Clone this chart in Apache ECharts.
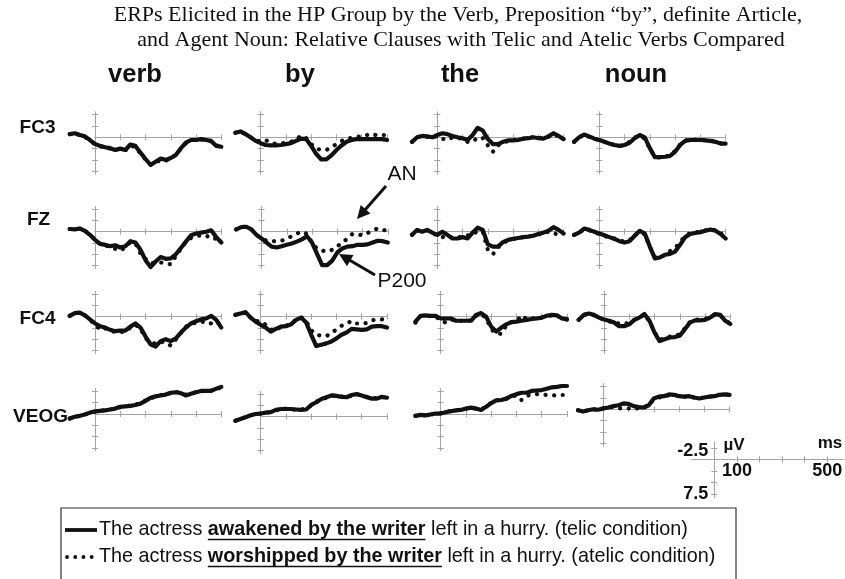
<!DOCTYPE html>
<html>
<head>
<meta charset="utf-8">
<script src="https://cdn.jsdelivr.net/npm/echarts@6/dist/echarts.min.js"></script>
<style>
  html, body { margin: 0; padding: 0; background: #fff; }
  #chart { width: 845px; height: 579px; }
</style>
</head>
<body>
<div id="chart"></div>
<script>
// sample times in ms (every 20 ms, -100 .. 500)
const times = [-100, -80, -60, -40, -20, 0, 20, 40, 60, 80, 100, 120, 140, 160, 180, 200,
               220, 240, 260, 280, 300, 320, 340, 360, 380, 400, 420, 440, 460, 480, 500];
const words = ['verb', 'by', 'the', 'noun'];
const channels = ['FC3', 'FZ', 'FC4', 'VEOG'];

// amplitudes in µV (negative up), telic = solid, atelic = dotted
const fc3VerbTelic  = [-0.7,-0.9,-0.5,-0.2,0.6,1.5,1.9,2.2,2.4,2.8,2.5,2.8,1.6,1.9,3.4,4.8,6.1,5.4,4.7,5.0,4.6,3.9,2.4,1.2,0.6,0.6,0.4,0.6,0.8,1.9,2.1];
const fc3VerbAtelic = [-0.7,-0.8,-0.5,-0.1,0.7,1.5,2.0,2.3,2.5,2.7,2.6,2.9,1.9,2.1,3.6,4.9,6.0,5.6,5.0,5.2,4.7,3.8,2.5,1.3,0.6,0.5,0.5,0.6,0.9,1.8,2.0];
const fc3ByTelic    = [-1.0,-1.3,-0.7,0,0.8,1.3,1.7,1.8,1.8,1.7,1.5,1.3,0.8,0.3,0.4,1.9,3.7,4.9,4.9,4.0,2.8,1.8,1.0,0.6,0.4,0.4,0.4,0.4,0.4,0.4,0.6];
const fc3ByAtelic   = [-1.0,-1.3,-0.7,0,0.7,0.9,0.6,1.3,1.4,1.3,1.3,1.0,0.5,-0.4,0.2,1.5,2.5,2.8,2.8,2.2,1.5,0.8,0.4,0.1,-0.1,-0.2,-0.5,-0.8,-0.4,-0.5,-0.5];
const fc3TheTelic   = [1.0,0,-0.3,-0.2,0,-0.5,-0.9,-0.7,-0.3,0,0.2,0.6,-0.5,-2.1,-1.5,0.4,1.5,1.5,1.0,0.7,0.7,0.6,0.3,0.2,0,0.2,0.3,-0.2,-0.9,-0.3,0.4];
const fc3TheAtelic  = [1.0,0,-0.3,-0.1,0.1,-0.3,0.3,0.6,0,0.1,0.4,1.0,1.0,0,0.2,1.8,3.2,1.8,1.2,0.8,0.6,0.5,0.3,0.1,0,0.1,0.2,-0.1,-0.7,-0.2,0.3];
const fc3NounTelic  = [1.0,0,-0.6,-0.2,0.3,0.6,1.0,1.4,1.7,1.9,1.7,1.2,0.2,-0.5,0,2.4,4.4,4.4,4.3,4.1,3.2,1.7,0.8,0.6,0.6,0.6,0.7,0.8,1.0,1.4,1.4];
const fc3NounAtelic = [1.0,0,-0.6,-0.1,0.3,0.6,1.0,1.4,1.7,1.9,1.8,1.0,0,-0.3,0.3,2.5,4.3,4.5,4.3,4.0,3.0,1.6,0.7,0.5,0.5,0.6,0.6,0.7,0.9,1.3,1.4];

const fzVerbTelic   = [-0.6,-0.5,-0.7,-0.2,0.7,1.8,2.7,2.9,3.2,3.0,3.5,3.2,2.1,2.4,4.0,6.3,7.8,6.6,5.6,6.0,5.9,5.0,3.6,2.2,0.8,0.4,0.2,0,-0.3,1.2,2.4];
const fzVerbAtelic  = [-0.6,-0.5,-0.7,-0.2,0.7,1.8,2.7,3.0,3.4,3.8,4.2,3.5,2.3,2.6,4.8,6.0,7.0,6.9,6.8,7.0,7.2,5.4,3.8,2.2,1.4,1.0,0.8,0.8,1.6,1.5,2.0];
const fzByTelic     = [-0.5,-1.0,-1.1,-0.5,0.7,1.5,2.4,3.3,3.5,3.2,2.9,2.6,2.2,1.7,1.0,2.4,4.9,7.4,7.4,6.4,4.6,3.7,3.3,3.2,2.9,2.9,2.8,2.4,2.0,2.1,2.4];
const fzByAtelic    = [-0.5,-1.0,-1.1,-0.5,0.7,1.5,2.0,2.2,2.0,2.0,1.5,1.0,0.4,0,0.5,2.5,3.8,4.2,4.4,4.0,3.2,2.5,1.5,0.5,0.6,0.8,0.3,-0.3,-0.7,-0.4,-0.2];
const fzTheTelic    = [0.7,-0.4,0,-0.4,0.2,0.7,0,0.7,1.5,1.5,1.2,1.5,0.2,-0.9,-0.4,2.8,3.3,3.3,2.3,1.8,1.6,1.4,1.2,1.1,0.9,0.5,0.2,-0.2,-1.0,-0.4,0.4];
const fzTheAtelic   = [0.7,-0.3,0,-0.3,0.3,0.8,1.2,0.9,1.3,1.3,1.0,0.8,0.7,-0.2,0,4.0,5.0,3.5,2.5,1.9,1.6,1.4,1.2,1.0,0.9,0.6,0.3,0,0.2,0.8,0.6];
const fzNounTelic   = [0.7,0.2,-0.7,-0.4,0,0.4,0.8,1.2,1.6,2.1,2.4,2.1,0.9,-0.2,0.4,3.3,5.9,5.7,5.1,4.9,4.4,2.9,1.2,0.5,0.3,0.1,-0.2,-0.5,-0.2,0.5,1.5];
const fzNounAtelic  = [0.7,0.2,-0.5,-0.3,0.1,0.5,0.9,1.4,1.5,1.9,2.2,1.9,0.8,-0.1,0.6,3.4,5.6,5.6,5.2,4.3,3.6,2.3,0.9,0.3,0.1,0,-0.3,-0.5,-0.4,0.3,1.2];

const fc4VerbTelic  = [-0.2,-0.8,-0.9,-0.3,0.6,1.5,2.1,2.4,2.9,3.2,3.1,3.1,2.2,1.5,2.4,4.4,6.1,6.6,5.4,5.0,5.4,4.8,3.5,2.4,1.5,1.0,0.6,0.4,-0.2,0.7,2.4];
const fc4VerbAtelic = [-0.2,-0.8,-0.9,-0.3,0.7,1.7,2.9,2.6,3.0,3.4,3.4,3.3,2.4,1.8,2.6,4.8,5.6,6.0,5.5,5.8,6.4,5.0,3.6,2.2,1.5,1.4,1.2,1.0,1.5,0.9,2.0];
const fc4ByTelic    = [-0.4,-0.7,-1.0,0.2,1.1,1.8,2.4,3.3,2.7,2.2,2.1,1.7,0.7,0.2,1.3,4.0,6.5,6.2,5.9,5.5,4.8,4.0,3.5,2.7,2.8,2.9,2.8,2.2,2.1,2.1,2.4];
const fc4ByAtelic   = [-0.4,-0.7,-1.0,0.2,1.0,1.0,1.8,2.8,3.1,2.2,2.0,1.6,0.6,0.1,1.0,3.0,4.0,4.2,4.3,3.6,2.8,2.0,1.6,0.9,1.5,1.5,1.4,0.8,0.6,0.6,0.8];
const fc4TheTelic   = [1.1,-0.2,-0.3,-0.2,-0.2,0.4,0.4,0.4,0.9,0.9,0.9,0.9,-0.4,-0.8,0,2.2,3.3,2.4,1.7,1.2,1.1,0.9,0.7,0.5,0.4,0.2,-0.2,-0.4,-0.3,0.4,0.6];
const fc4TheAtelic  = [1.3,-0.1,-0.2,-0.1,-0.1,0.9,1.3,0.6,0.8,0.9,1.0,0.8,-0.2,-0.6,0.3,2.8,3.7,3.8,1.9,1.2,1.0,-0.3,0.5,0.4,0.3,0.2,-0.1,-0.3,-0.2,0.3,0.6];
const fc4NounTelic  = [0.7,-0.4,-0.7,-0.4,0.2,0.6,0.9,1.3,2.1,2.1,1.7,0.7,0.2,-0.6,0.9,3.5,5.4,5.0,4.6,4.5,4.2,2.8,1.3,0.8,0.8,0.7,0.2,-0.6,-0.4,0.9,1.6];
const fc4NounAtelic = [0.7,-0.4,-0.6,-0.3,0.2,0.6,1.0,1.4,1.5,1.6,1.3,0.7,0.2,-0.5,1.0,3.4,5.1,4.8,4.4,4.2,3.9,2.6,1.2,0.7,0.6,0.5,0.1,-0.5,-0.3,0.8,1.5];

const veogVerbTelic  = [1.0,0.6,0.4,0.1,-0.3,-0.6,-0.7,-0.8,-1.0,-1.2,-1.6,-1.7,-1.8,-2.0,-2.3,-2.9,-3.6,-3.9,-4.1,-4.3,-4.7,-4.8,-4.6,-4.1,-4.5,-4.8,-5.1,-5.1,-5.1,-5.6,-6.0];
const veogVerbAtelic = [1.0,0.6,0.4,0.1,-0.3,-0.5,-0.7,-0.9,-1.0,-1.2,-1.5,-1.7,-1.9,-2.1,-2.4,-3.0,-3.5,-3.8,-4.2,-4.4,-4.6,-4.9,-4.7,-4.3,-4.4,-4.9,-5.0,-5.2,-5.2,-5.5,-5.9];
const veogByTelic    = [0.9,0.5,0.1,-0.3,-0.6,-0.7,-0.9,-1.0,-1.5,-1.7,-1.7,-1.7,-1.6,-1.5,-1.6,-2.6,-3.2,-3.9,-4.3,-4.7,-4.6,-4.4,-4.3,-4.8,-5.0,-4.7,-4.3,-4.0,-4.0,-4.4,-4.2];
const veogByAtelic   = [0.9,0.5,0.1,-0.3,-0.6,-0.7,-0.8,-1.1,-1.4,-1.6,-1.8,-1.7,-1.5,-1.6,-1.8,-2.5,-3.3,-3.8,-4.2,-4.6,-4.7,-4.5,-4.2,-4.7,-4.9,-4.8,-4.4,-4.1,-4.1,-4.3,-4.3];
const veogTheTelic   = [0.4,0.2,0.3,0.1,-0.1,-0.1,-0.4,-0.6,-0.8,-0.9,-1.2,-1.4,-1.2,-0.9,-1.6,-2.4,-3.0,-3.1,-3.4,-4.0,-4.4,-4.7,-4.7,-5.1,-5.2,-5.3,-5.6,-5.9,-6.0,-6.2,-6.2];
const veogTheAtelic  = [0.4,0.2,0.3,0.1,-0.1,-0.2,-0.4,-0.7,-0.8,-1.0,-1.2,-1.3,-1.2,-1.0,-1.7,-2.5,-3.0,-3.2,-3.4,-3.9,-4.1,-3.1,-4.0,-4.3,-4.4,-4.3,-4.2,-4.1,-4.1,-4.2,-4.2];
const veogNounTelic  = [0.2,0.5,0.2,0,0.1,-0.2,-0.4,-0.7,-0.9,-1.3,-1.2,-0.7,-0.5,-0.4,-0.9,-2.4,-2.8,-2.9,-3.3,-3.2,-2.9,-2.8,-2.9,-2.6,-2.4,-2.6,-2.8,-2.9,-3.2,-3.3,-3.2];
const veogNounAtelic = [0.2,0.5,0.2,0,0.1,-0.2,-0.4,-0.5,-0.2,-0.2,-0.2,0,-0.3,-0.4,-1.0,-2.2,-2.6,-2.8,-3.1,-3.2,-2.9,-2.8,-2.8,-2.6,-2.5,-2.6,-2.8,-2.9,-3.2,-3.3,-3.2];

const telic = [
  [fc3VerbTelic, fc3ByTelic, fc3TheTelic, fc3NounTelic],
  [fzVerbTelic, fzByTelic, fzTheTelic, fzNounTelic],
  [fc4VerbTelic, fc4ByTelic, fc4TheTelic, fc4NounTelic],
  [veogVerbTelic, veogByTelic, veogTheTelic, veogNounTelic]
];
const atelic = [
  [fc3VerbAtelic, fc3ByAtelic, fc3TheAtelic, fc3NounAtelic],
  [fzVerbAtelic, fzByAtelic, fzTheAtelic, fzNounAtelic],
  [fc4VerbAtelic, fc4ByAtelic, fc4TheAtelic, fc4NounAtelic],
  [veogVerbAtelic, veogByAtelic, veogTheAtelic, veogNounAtelic]
];

const xTickValues = [100, 200, 300, 400, 500];
const yTickValues = [-5, -2.5, 2.5, 5, 7.5];
const scaleXTicks = [100, 200, 300, 400, 500];
const scaleXLabels = [100, 500];
const scaleYTicks = [-2.5, 2.5, 5, 7.5];
const scaleYLabels = [-2.5, 7.5];

// layout (pixel position of t = 0 and of 0 µV for each panel)
const panelX0 = [
  [95, 260.7, 437.3, 599.3],
  [95, 261.5, 437.3, 599.3],
  [95, 260.7, 440.7, 604],
  [95, 260.7, 440.7, 603.3]
];
const panelY0 = [
  [137.3, 137.3, 137.3, 137.3],
  [231.7, 231.7, 231.7, 231.7],
  [316.7, 316.7, 316.7, 316.7],
  [414, 416.7, 414, 409.3]
];
const PX_MS = 0.2526, PX_UV = 4.52;
const Y_MIN = -5.6, Y_MAX = 8.1;
const axisColor = '#a3a3a3';
const ink = '#111';
const sans = '"Liberation Sans", Arial, sans-serif';
const serif = '"Liberation Serif", "Times New Roman", serif';

const grid = [], xAxis = [], yAxis = [], series = [];

// visible frame: axis lines cross at (0 ms, 0 µV), ticks on both sides
function addFrame(x0, y0, xMin, xMax, pxMs, yMin, yMax, pxUv, xTicks, yTicks) {
  const g = grid.length;
  grid.push({
    left: x0 + xMin * pxMs, top: y0 + yMin * pxUv,
    width: (xMax - xMin) * pxMs, height: (yMax - yMin) * pxUv
  });
  const xi = xAxis.length, yi = yAxis.length;
  const lineStyle = { color: axisColor, width: 1 };
  ['bottom', 'top'].forEach(pos => {
    xAxis.push({
      type: 'value', gridIndex: g, min: xMin, max: xMax, position: pos,
      axisLine: { onZero: true, onZeroAxisIndex: yi, lineStyle },
      axisTick: { customValues: xTicks, length: 3, lineStyle },
      axisLabel: { show: false }, splitLine: { show: false }
    });
  });
  ['left', 'right'].forEach(pos => {
    yAxis.push({
      type: 'value', gridIndex: g, min: yMin, max: yMax, inverse: true, position: pos,
      axisLine: { onZero: true, onZeroAxisIndex: xi, lineStyle },
      axisTick: { customValues: yTicks, length: 3, lineStyle },
      axisLabel: { show: false }, splitLine: { show: false }
    });
  });
  return { xi, yi };
}

// hidden data frame covering the whole epoch (-100 .. 500 ms)
function addDataFrame(x0, y0) {
  const g = grid.length;
  grid.push({
    left: x0 - 100 * PX_MS, top: y0 + Y_MIN * PX_UV,
    width: 600 * PX_MS, height: (Y_MAX - Y_MIN) * PX_UV
  });
  const xi = xAxis.length, yi = yAxis.length;
  xAxis.push({ type: 'value', gridIndex: g, min: -100, max: 500, show: false });
  yAxis.push({ type: 'value', gridIndex: g, min: Y_MIN, max: Y_MAX, inverse: true, show: false });
  return { xi, yi };
}

for (let r = 0; r < channels.length; r++) {
  for (let c = 0; c < words.length; c++) {
    const x0 = panelX0[r][c], y0 = panelY0[r][c];
    addFrame(x0, y0, 0, 500, PX_MS, Y_MIN, Y_MAX, PX_UV, xTickValues, yTickValues);
    const { xi, yi } = addDataFrame(x0, y0);
    series.push({
      name: channels[r] + ' ' + words[c] + ' atelic', type: 'line',
      xAxisIndex: xi, yAxisIndex: yi, symbol: 'none', clip: false, silent: true, z: 2,
      data: times.map((t, i) => [t, atelic[r][c][i]]),
      lineStyle: { color: ink, width: 4.2, type: [0.1, 8.5], cap: 'round' }
    });
    series.push({
      name: channels[r] + ' ' + words[c] + ' telic', type: 'line',
      xAxisIndex: xi, yAxisIndex: yi, symbol: 'none', clip: false, silent: true, z: 3,
      data: times.map((t, i) => [t, telic[r][c][i]]),
      lineStyle: { color: ink, width: 4.2, join: 'round', cap: 'round' }
    });
  }
}

// calibration bar
const scaleAxes = addFrame(714.3, 459.3, -100, 570, 0.226, -3.7, 8.3, 4.6, scaleXTicks, scaleYTicks);

const chart = echarts.init(document.getElementById('chart'));
chart.setOption({
  backgroundColor: '#fff',
  animation: false,
  grid, xAxis, yAxis, series
});

// text helpers
const measureCtx = document.createElement('canvas').getContext('2d');
function textWidth(txt, font) { measureCtx.font = font; return measureCtx.measureText(txt).width; }
function label(text, x, y, font, align) {
  return { type: 'text', x, y, silent: true,
    style: { text: String(text), font, fill: ink, align: align || 'center', verticalAlign: 'middle' } };
}
function arrow(x1, y1, x2, y2) {
  const dx = x2 - x1, dy = y2 - y1, L = Math.hypot(dx, dy), ux = dx / L, uy = dy / L;
  const hl = 13, hw = 6.5, bx = x2 - ux * hl, by = y2 - uy * hl;
  return [
    { type: 'line', silent: true, shape: { x1, y1, x2: bx + ux * 2, y2: by + uy * 2 },
      style: { stroke: ink, lineWidth: 3 } },
    { type: 'polygon', silent: true,
      shape: { points: [[x2, y2], [bx - uy * hw, by + ux * hw], [bx + uy * hw, by - ux * hw]] },
      style: { fill: ink } }
  ];
}

const titleFont = '22px ' + serif;
const headFont = 'bold 25.5px ' + sans;
const rowFont = 'bold 19px ' + sans;
const noteFont = '21px ' + sans;
const scaleFont = 'bold 18px ' + sans;
const legFont = '19.8px ' + sans;
const legBold = 'bold 19.8px ' + sans;

const graphic = [
  label('ERPs Elicited in the HP Group by the Verb, Preposition \u201Cby\u201D, definite Article,', 458, 15, titleFont),
  label('and Agent Noun: Relative Clauses with Telic and Atelic Verbs Compared', 461, 40, titleFont),
  label(words[0], 135, 75, headFont),
  label(words[1], 300, 75, headFont),
  label(words[2], 460, 75, headFont),
  label(words[3], 636, 75, headFont),
  label(channels[0], 37.5, 128, rowFont),
  label(channels[1], 38.5, 220, rowFont),
  label(channels[2], 37.5, 319, rowFont),
  label(channels[3], 40.5, 417, rowFont),
  label('AN', 402, 174, noteFont),
  label('P200', 402, 281, noteFont),
  ...arrow(386, 186, 357, 219),
  ...arrow(375, 275, 339, 254),
  label('\u00B5V', 734, 445, 'bold 17px ' + sans),
  label('ms', 830, 443, 'bold 17px ' + sans)
];

// calibration-bar tick labels placed through the bar's own axes
const scaleFinder = { xAxisIndex: scaleAxes.xi, yAxisIndex: scaleAxes.yi };
scaleXLabels.forEach(v => {
  const p = chart.convertToPixel(scaleFinder, [v, 0]);
  graphic.push(label(v, p[0], p[1] + 12, scaleFont));
});
scaleYLabels.forEach(v => {
  const p = chart.convertToPixel(scaleFinder, [0, v]);
  graphic.push(label(v, p[0] - 6, p[1] + (v < 0 ? 3 : 0), scaleFont, 'right'));
});

// legend box
graphic.push({ type: 'rect', silent: true, shape: { x: 61, y: 508, width: 675, height: 90 },
  style: { fill: 'none', stroke: '#333', lineWidth: 1.2 } });
graphic.push({ type: 'line', silent: true, shape: { x1: 65, y1: 530, x2: 97, y2: 530 },
  style: { stroke: ink, lineWidth: 3.8 } });
graphic.push({ type: 'line', silent: true, shape: { x1: 67, y1: 557, x2: 92, y2: 557 },
  style: { stroke: ink, lineWidth: 3.8, lineDash: [0.1, 8.1], lineCap: 'round' } });

const legendRows = [
  ['The actress ', 'awakened by the writer', ' left in a hurry. (telic condition)', 530],
  ['The actress ', 'worshipped by the writer', ' left in a hurry. (atelic condition)', 557]
];
legendRows.forEach(([a, b, c, y]) => {
  let x = 99;
  graphic.push(label(a, x, y, legFont, 'left'));
  x += textWidth(a, legFont);
  const w = textWidth(b, legBold);
  graphic.push(label(b, x, y, legBold, 'left'));
  graphic.push({ type: 'line', silent: true, shape: { x1: x, y1: y + 9.5, x2: x + w, y2: y + 9.5 },
    style: { stroke: ink, lineWidth: 1.5 } });
  x += w;
  graphic.push(label(c, x, y, legFont, 'left'));
});

chart.setOption({ graphic: { elements: graphic } });
</script>
</body>
</html>
